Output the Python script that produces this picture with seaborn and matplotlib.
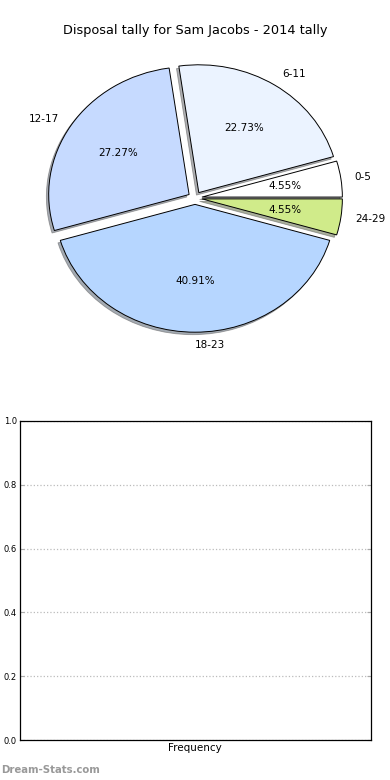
import matplotlib
matplotlib.use("Agg")
import matplotlib.pyplot as plt
import seaborn as sns

# disposal counts per bracket (22 games)
brackets = ["0-5", "6-11", "12-17", "18-23", "24-29"]
counts = [1, 5, 6, 9, 1]
wedge_colors = ["#ffffff", "#ebf3ff", "#c6daff", "#b6d6ff", "#d0eb8a"]

bar_labels = ["Frequency"]
bar_values = [0]
y_ticks = [0.0, 0.2, 0.4, 0.6, 0.8, 1.0]

sns.set_style("white")
plt.rcParams["font.family"] = ["DejaVu Sans"]
plt.rcParams["text.color"] = "black"
plt.rcParams["xtick.color"] = "black"
plt.rcParams["ytick.color"] = "black"

fig, (ax1, ax2) = plt.subplots(2, 1, figsize=(3.9, 7.8), dpi=100)
fig.subplots_adjust(left=0.05, right=0.95, bottom=0.051, top=0.951, hspace=0.197)

# pie of disposal tally
wedges, texts, autotexts = ax1.pie(
    counts, labels=brackets, colors=wedge_colors, autopct="%.2f%%",
    explode=[0.05] * len(counts),
    shadow={"ox": -0.012, "oy": -0.014, "shade": 0.6, "edgecolor": "#555555", "linewidth": 0.6},
    startangle=0,
    wedgeprops={"edgecolor": "black", "linewidth": 0.7},
    textprops={"fontsize": 7.5, "color": "black"},
)
ax1.set_aspect("auto")
ax1.set_xlim(-1.25, 1.25)
ax1.set_ylim(-1.25, 1.25)
ax1.set_title("Disposal tally for Sam Jacobs - 2014 tally", fontsize=9.3, pad=3)

# empty frequency chart
sns.barplot(x=bar_labels, y=bar_values, ax=ax2, color="#b6d6ff")
ax2.set_ylim(0, 1)
ax2.set_yticks(y_ticks)
ax2.set_yticklabels([f"{v:.1f}" for v in y_ticks], fontsize=6)
ax2.tick_params(axis="x", labelsize=7.5, length=0, pad=2)
ax2.tick_params(axis="y", direction="in", length=3, color="#aaaaaa",
                left=True, right=True, pad=2)
ax2.yaxis.grid(True, linestyle=":", color="#bbbbbb", linewidth=0.9)
ax2.set_axisbelow(True)
for sp in ax2.spines.values():
    sp.set_color("black")
    sp.set_linewidth(0.9)
ax2.set_xlabel("")
ax2.set_ylabel("")

fig.text(0.002, 0.006, "Dream-Stats.com", fontsize=7.3, color="#999999",
         fontweight="bold", ha="left", va="bottom")

fig.savefig("out.png", dpi=100)
